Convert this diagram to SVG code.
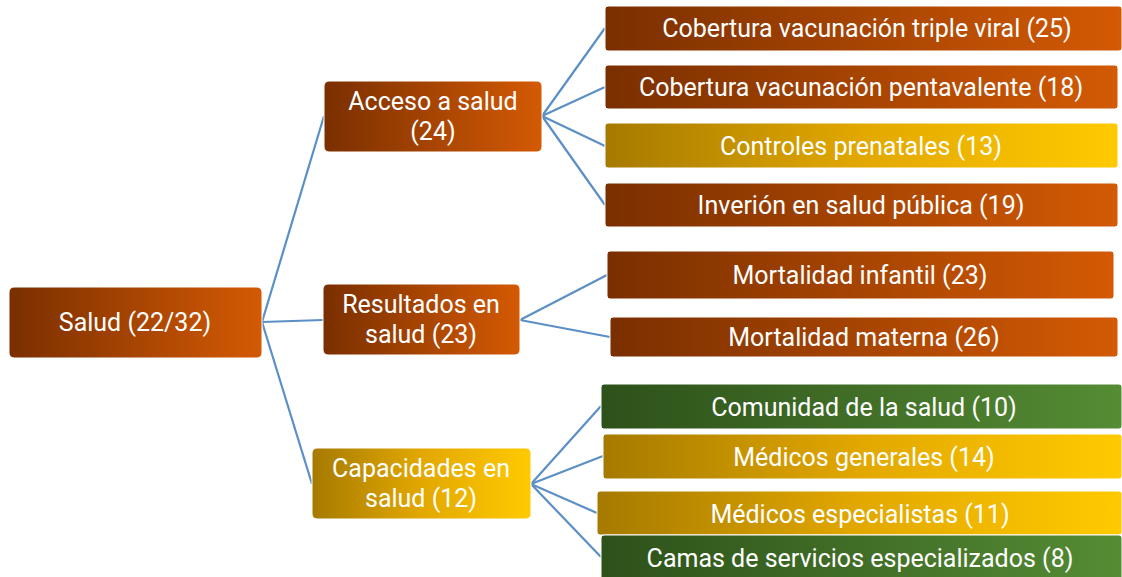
<svg xmlns="http://www.w3.org/2000/svg" width="1122" height="577" viewBox="0 0 1122 577">
<defs>
<linearGradient id="gB" x1="0" y1="0" x2="1" y2="0"><stop offset="0" stop-color="#7a2f00"/><stop offset="1" stop-color="#d45a04"/></linearGradient>
<linearGradient id="gY" x1="0" y1="0" x2="1" y2="0"><stop offset="0" stop-color="#a67a00"/><stop offset="0.5" stop-color="#e2a800"/><stop offset="1" stop-color="#ffca00"/></linearGradient>
<linearGradient id="gG" x1="0" y1="0" x2="1" y2="0"><stop offset="0" stop-color="#2d511a"/><stop offset="1" stop-color="#558c34"/></linearGradient>
</defs>
<style>
.b{fill:url(#gB)}.y{fill:url(#gY)}.g{fill:url(#gG)}
rect{stroke:#ffffff;stroke-width:1}
text{font-family:Roboto,"Noto Sans",sans-serif;font-size:25px;fill:#ffffff;text-anchor:middle}
.c line{stroke:#5b8fc6;stroke-width:2.2}
</style>
<g class="c">
<line x1="262" y1="322" x2="324" y2="116"/>
<line x1="262" y1="322" x2="323" y2="320"/>
<line x1="262" y1="322" x2="312" y2="484"/>
<line x1="542" y1="116" x2="605" y2="28"/>
<line x1="542" y1="116" x2="605" y2="87"/>
<line x1="542" y1="116" x2="605" y2="146"/>
<line x1="542" y1="116" x2="605" y2="205"/>
<line x1="520" y1="320" x2="607" y2="275"/>
<line x1="520" y1="320" x2="610" y2="337"/>
<line x1="531" y1="484" x2="601" y2="406"/>
<line x1="531" y1="484" x2="603" y2="456"/>
<line x1="531" y1="484" x2="597" y2="513"/>
<line x1="531" y1="484" x2="601" y2="557"/>
</g>
<g id="salud"><rect class="b" x="9" y="287" width="253" height="71" rx="5"/><text x="135" y="331">Salud (22/32)</text></g>
<g id="acceso"><rect class="b" x="324" y="81" width="218" height="71" rx="5"/><text x="433" y="110">Acceso a salud</text><text x="433" y="140">(24)</text></g>
<g id="resultados"><rect class="b" x="323" y="284" width="197" height="71" rx="5"/><text x="421" y="313">Resultados en</text><text x="421" y="343">salud (23)</text></g>
<g id="capacidades"><rect class="y" x="312" y="448" width="219" height="71" rx="5"/><text x="421" y="477">Capacidades en</text><text x="421" y="507">salud (12)</text></g>
<g id="n1"><rect class="b" x="605" y="6" width="517" height="45" rx="3"/><text x="867" y="37">Cobertura vacunación triple viral (25)</text></g>
<g id="n2"><rect class="b" x="605" y="65" width="513" height="44" rx="3"/><text x="861" y="96">Cobertura vacunación pentavalente (18)</text></g>
<g id="n3"><rect class="y" x="605" y="123" width="513" height="45" rx="3"/><text x="861" y="155">Controles prenatales (13)</text></g>
<g id="n4"><rect class="b" x="605" y="183" width="513" height="44" rx="3"/><text x="861" y="214">Inverión en salud pública (19)</text></g>
<g id="n5"><rect class="b" x="607" y="251" width="507" height="48" rx="3"/><text x="860" y="284">Mortalidad infantil (23)</text></g>
<g id="n6"><rect class="b" x="610" y="317" width="508" height="40" rx="3"/><text x="864" y="346">Mortalidad materna (26)</text></g>
<g id="n7"><rect class="g" x="601" y="384" width="521" height="45" rx="3"/><text x="864" y="416">Comunidad de la salud (10)</text></g>
<g id="n8"><rect class="y" x="603" y="434" width="519" height="45" rx="3"/><text x="864" y="466">Médicos generales (14)</text></g>
<g id="n9"><rect class="y" x="597" y="491" width="525" height="44" rx="3"/><text x="860" y="523">Médicos especialistas (11)</text></g>
<g id="n10"><rect class="g" x="601" y="535" width="521" height="45" rx="3"/><text x="860" y="567">Camas de servicios especializados (8)</text></g>
</svg>
